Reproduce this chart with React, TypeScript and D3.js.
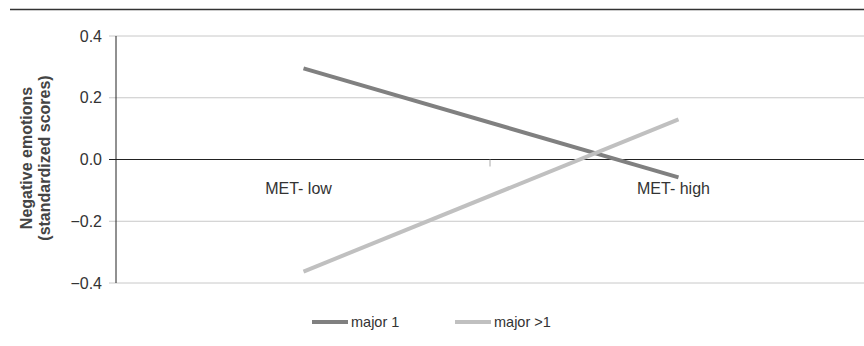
import React from "react";
import * as d3 from "d3";

const categories = ["MET- low", "MET- high"];
const seriesNames = ["major 1", "major >1"];
const major1 = [0.295, -0.058];
const majorGt1 = [-0.363, 0.13];
const yTicks = [0.4, 0.2, 0.0, -0.2, -0.4];
const colors = ["#808080", "#c0c0c0"];

export default function App() {
  const W = 864, H = 346;
  const left = 116, right = 866, top = 36, bottom = 283;
  const x = d3.scaleBand().domain(categories).range([left, right]);
  const y = d3.scaleLinear().domain([-0.4, 0.4]).range([bottom, top]);
  const fmt = (v: number) => (v < 0 ? "\u2212" + Math.abs(v).toFixed(1) : v.toFixed(1));
  const line = d3
    .line<number>()
    .x((_, i) => (x(categories[i]) as number) + x.bandwidth() / 2)
    .y((d) => y(d));
  const series = [major1, majorGt1];
  const font = "'Liberation Sans', Arial, Helvetica, sans-serif";
  return (
    <svg width={W} height={H} style={{ position: "absolute", left: 0, top: 0 }} fontFamily={font}>
      <line x1={10} x2={864} y1={9.5} y2={9.5} stroke="#333" strokeWidth={1.5} />
      {yTicks.map((t) => (
        <g key={t}>
          <line
            x1={109}
            x2={W}
            y1={y(t)}
            y2={y(t)}
            stroke={t === 0 ? "#222" : "#c8c8c8"}
            strokeWidth={t === 0 ? 1.2 : 1}
          />
          <text x={102} y={y(t)} dy="0.35em" textAnchor="end" fontSize={16} fill="#333">
            {fmt(t)}
          </text>
        </g>
      ))}
      <line x1={left} x2={left} y1={top} y2={bottom} stroke="#222" strokeWidth={1} />
      <line x1={490} x2={490} y1={y(0)} y2={y(0) + 7} stroke="#aaa" strokeWidth={1} />
      {categories.map((c) => (
        <text
          key={c}
          x={(x(c) as number) + x.bandwidth() / 2 - 5}
          y={194}
          textAnchor="middle"
          fontSize={16}
          fill="#333"
        >
          {c}
        </text>
      ))}
      {series.map((s, i) => (
        <path key={i} d={line(s) || ""} fill="none" stroke={colors[i]} strokeWidth={4} />
      ))}
      <g transform={`translate(0, 158) rotate(-90)`}>
        <text textAnchor="middle" fontSize={16} fontWeight="bold" fill="#444" y={32}>
          Negative emotions
        </text>
        <text textAnchor="middle" fontSize={16} fontWeight="bold" fill="#444" y={50}>
          (standardized scores)
        </text>
      </g>
      {seriesNames.map((n, i) => {
        const lx = i === 0 ? 312 : 455;
        return (
          <g key={n}>
            <line x1={lx} x2={lx + 36} y1={322} y2={322} stroke={colors[i]} strokeWidth={4} />
            <text x={lx + 39} y={322} dy="0.35em" fontSize={14.5} fill="#333">
              {n}
            </text>
          </g>
        );
      })}
    </svg>
  );
}
